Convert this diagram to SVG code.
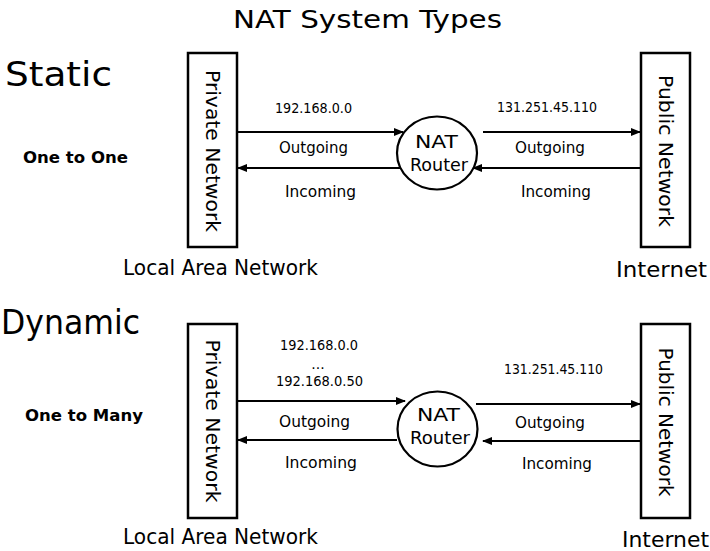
<svg xmlns="http://www.w3.org/2000/svg" width="710" height="551" viewBox="0 0 710 551">
  <defs>
    <marker id="head" markerUnits="userSpaceOnUse" markerWidth="10" markerHeight="8" refX="9" refY="4" orient="auto">
      <path d="M0,0 L10,4 L0,8 Z" fill="#000"/>
    </marker>
    <style>
      text { font-family: "DejaVu Sans", "Liberation Sans", sans-serif; fill: #000; }
      .title { font-size: 25px; }
      .kind { font-size: 34px; }
      .ratio { font-size: 16px; font-weight: bold; }
      .net { font-size: 19px; }
      .zone { font-size: 21px; }
      .ip { font-size: 14px; }
      .dir { font-size: 16px; }
      .router { font-size: 18px; }
      .box { fill: #fff; stroke: #000; stroke-width: 2.5; }
      .hub { fill: #fff; stroke: #000; stroke-width: 2.2; }
      .link { stroke: #000; stroke-width: 2; fill: none; marker-end: url(#head); }
    </style>
  </defs>
  <rect width="710" height="551" fill="#fff"/>

  <text class="title" x="233" y="28" textLength="269" lengthAdjust="spacingAndGlyphs">NAT System Types</text>

  <!-- Static NAT: one to one -->
  <g id="static-labels">
    <text class="kind" x="5" y="86" textLength="107" lengthAdjust="spacingAndGlyphs">Static</text>
    <text class="ratio" x="23" y="163" textLength="105" lengthAdjust="spacingAndGlyphs">One to One</text>
    <text class="zone" x="123" y="275" textLength="195" lengthAdjust="spacingAndGlyphs">Local Area Network</text>
    <text class="zone" x="616" y="277" textLength="91" lengthAdjust="spacingAndGlyphs">Internet</text>
    <text class="ip" x="275" y="113" textLength="77" lengthAdjust="spacingAndGlyphs">192.168.0.0</text>
    <text class="ip" x="497" y="112" textLength="100" lengthAdjust="spacingAndGlyphs">131.251.45.110</text>
    <text class="dir" x="279" y="153" textLength="69" lengthAdjust="spacingAndGlyphs">Outgoing</text>
    <text class="dir" x="285" y="197" textLength="71" lengthAdjust="spacingAndGlyphs">Incoming</text>
    <text class="dir" x="515" y="153" textLength="70" lengthAdjust="spacingAndGlyphs">Outgoing</text>
    <text class="dir" x="521" y="197" textLength="70" lengthAdjust="spacingAndGlyphs">Incoming</text>
  </g>

  <g id="static-private">
    <rect class="box" x="188" y="53" width="49" height="194"/>
    <text class="net" transform="translate(205.5,151) rotate(90)" text-anchor="middle" textLength="162" lengthAdjust="spacingAndGlyphs">Private Network</text>
  </g>

  <g id="static-router">
    <ellipse class="hub" cx="437" cy="153" rx="40" ry="36.5"/>
    <text class="router" x="436.5" y="148" text-anchor="middle" textLength="43" lengthAdjust="spacingAndGlyphs">NAT</text>
    <text class="router" x="439" y="171" text-anchor="middle" textLength="58" lengthAdjust="spacingAndGlyphs">Router</text>
  </g>

  <g id="static-public">
    <rect class="box" x="641" y="53" width="49" height="194"/>
    <text class="net" transform="translate(659,151) rotate(90)" text-anchor="middle" textLength="152" lengthAdjust="spacingAndGlyphs">Public Network</text>
  </g>

  <!-- Dynamic NAT: one to many -->
  <g id="dynamic-labels">
    <text class="kind" x="1" y="334" textLength="139" lengthAdjust="spacingAndGlyphs">Dynamic</text>
    <text class="ratio" x="25" y="421" textLength="118" lengthAdjust="spacingAndGlyphs">One to Many</text>
    <text class="zone" x="123" y="544" textLength="195" lengthAdjust="spacingAndGlyphs">Local Area Network</text>
    <text class="zone" x="622" y="547" textLength="87" lengthAdjust="spacingAndGlyphs">Internet</text>
    <text class="ip" x="280" y="350" textLength="78" lengthAdjust="spacingAndGlyphs">192.168.0.0</text>
    <text class="ip" x="318" y="369" text-anchor="middle" font-size="9">...</text>
    <text class="ip" x="276" y="386" textLength="87" lengthAdjust="spacingAndGlyphs">192.168.0.50</text>
    <text class="ip" x="504" y="374" textLength="99" lengthAdjust="spacingAndGlyphs">131.251.45.110</text>
    <text class="dir" x="279" y="427" textLength="71" lengthAdjust="spacingAndGlyphs">Outgoing</text>
    <text class="dir" x="285" y="468" textLength="72" lengthAdjust="spacingAndGlyphs">Incoming</text>
    <text class="dir" x="515" y="428" textLength="70" lengthAdjust="spacingAndGlyphs">Outgoing</text>
    <text class="dir" x="522" y="469" textLength="70" lengthAdjust="spacingAndGlyphs">Incoming</text>
  </g>

  <g id="dynamic-private">
    <rect class="box" x="188" y="324" width="49" height="194"/>
    <text class="net" transform="translate(205.5,421) rotate(90)" text-anchor="middle" textLength="163" lengthAdjust="spacingAndGlyphs">Private Network</text>
  </g>

  <g id="dynamic-router">
    <ellipse class="hub" cx="437.5" cy="429" rx="40" ry="37.5"/>
    <text class="router" x="438.5" y="421" text-anchor="middle" textLength="43" lengthAdjust="spacingAndGlyphs">NAT</text>
    <text class="router" x="440" y="444" text-anchor="middle" textLength="60" lengthAdjust="spacingAndGlyphs">Router</text>
  </g>

  <g id="dynamic-public">
    <rect class="box" x="641" y="324" width="49" height="194"/>
    <text class="net" transform="translate(659,422) rotate(90)" text-anchor="middle" textLength="149" lengthAdjust="spacingAndGlyphs">Public Network</text>
  </g>

  <!-- traffic between the networks and the router -->
  <g id="connectors">
    <line class="link" x1="237" y1="132" x2="403" y2="132"/>
    <line class="link" x1="400" y1="168" x2="238" y2="168"/>
    <line class="link" x1="483" y1="132" x2="640" y2="132"/>
    <line class="link" x1="640" y1="168" x2="473" y2="168"/>

    <line class="link" x1="237" y1="401" x2="405" y2="401"/>
    <line class="link" x1="397" y1="440" x2="238" y2="440"/>
    <line class="link" x1="476" y1="404" x2="640" y2="404"/>
    <line class="link" x1="640" y1="441" x2="483" y2="441"/>
  </g>
</svg>
